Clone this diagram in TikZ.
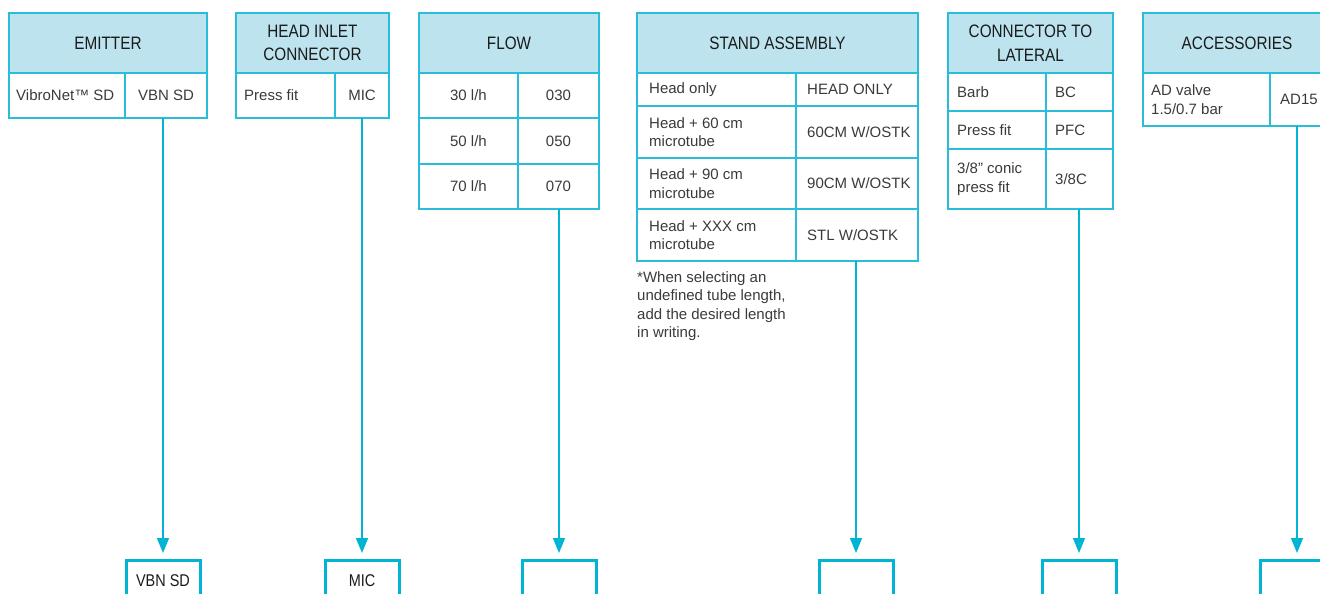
\documentclass[tikz,border=0pt]{standalone}
\usepackage{fontspec}
\setmainfont{Liberation Sans}
\newfontfamily\headfont[FakeStretch=0.85]{Liberation Sans}
\usepackage{tikz}
\usetikzlibrary{arrows.meta}
\definecolor{ciano}{HTML}{29BDD9}
\definecolor{cianoscuro}{HTML}{00B4D4}
\definecolor{azzurro}{HTML}{BDE3EE}
\definecolor{grigio}{HTML}{3A3A3A}
\definecolor{nero}{HTML}{1A1A1A}

\begin{document}
\begin{tikzpicture}[x=1pt, y=-1pt,
  griglia/.style={ciano, line width=1.5pt},
  testata/.style={font=\headfont\fontsize{18}{23.5}\selectfont, text=nero, align=center},
  voce/.style={font=\fontsize{15}{18.5}\selectfont, text=grigio, anchor=west, align=left, inner sep=0pt},
  codice/.style={font=\fontsize{15}{18.5}\selectfont, text=grigio, inner sep=0pt},
  uscita/.style={draw=cianoscuro, line width=3pt, minimum width=74pt, minimum height=40pt,
    anchor=north, font=\headfont\fontsize{17}{20}\selectfont, text=nero},
  collega/.style={cianoscuro, line width=1.5pt, shorten >=6pt, -{Triangle[length=15pt, width=12pt]}}]
  \useasboundingbox (0,0) rectangle (1320,594);
  \clip (0,0) rectangle (1320,594);
  % Emitter
  \fill[azzurro] (9,13) rectangle (207,73);
  \draw[griglia] (9,13) rectangle (207,118) (9,73) -- (207,73) (125,73) -- (125,118);
  \node[testata] (emitter) at (108,43) {EMITTER};
  \node[voce] (vibronet) at (16,95.5) {VibroNet™ SD};
  \node[codice] (vbnsd) at (166,95.5) {VBN SD};
  \coordinate (emitterOut) at (163,118);
  % Head inlet connector
  \fill[azzurro] (236,13) rectangle (389,73);
  \draw[griglia] (236,13) rectangle (389,118) (236,73) -- (389,73) (335,73) -- (335,118);
  \node[testata] (inlet) at (312.5,43) {HEAD INLET\\CONNECTOR};
  \node[voce] (pressfit) at (244,95.5) {Press fit};
  \node[codice] (mic) at (362,95.5) {MIC};
  \coordinate (inletOut) at (362,118);
  % Flow
  \fill[azzurro] (419,13) rectangle (599,73);
  \draw[griglia] (419,13) rectangle (599,209) (419,73) -- (599,73) (419,118) -- (599,118)
    (419,164) -- (599,164) (518,73) -- (518,209);
  \node[testata] (flow) at (509,43) {FLOW};
  \node[codice] (q30) at (468.5,95.5) {30 l/h};
  \node[codice] (c030) at (558.5,95.5) {030};
  \node[codice] (q50) at (468.5,141) {50 l/h};
  \node[codice] (c050) at (558.5,141) {050};
  \node[codice] (q70) at (468.5,186.5) {70 l/h};
  \node[codice] (c070) at (558.5,186.5) {070};
  \coordinate (flowOut) at (559,209);
  % Stand assembly
  \fill[azzurro] (637,13) rectangle (918,73);
  \draw[griglia] (637,13) rectangle (918,261) (637,73) -- (918,73) (637,106) -- (918,106)
    (637,158) -- (918,158) (637,209) -- (918,209) (796,73) -- (796,261);
  \node[testata] (stand) at (777.5,43) {STAND ASSEMBLY};
  \node[voce] (headonly) at (649,89.5) {Head only};
  \node[voce] (cheadonly) at (807,89.5) {HEAD ONLY};
  \node[voce] (head60) at (649,132) {Head + 60 cm\\microtube};
  \node[voce] (c60) at (807,132) {60CM W/OSTK};
  \node[voce] (head90) at (649,183.5) {Head + 90 cm\\microtube};
  \node[voce] (c90) at (807,183.5) {90CM W/OSTK};
  \node[voce] (headxxx) at (649,235) {Head + XXX cm\\microtube};
  \node[voce] (cstl) at (807,235) {STL W/OSTK};
  \node[voce, anchor=north west] (nota) at (637,271) {*When selecting an\\undefined tube length,\\add the desired length\\in writing.};
  \coordinate (standOut) at (856,261);
  % Connector to lateral
  \fill[azzurro] (948,13) rectangle (1113,73);
  \draw[griglia] (948,13) rectangle (1113,209) (948,73) -- (1113,73) (948,111) -- (1113,111)
    (948,149) -- (1113,149) (1046,73) -- (1046,209);
  \node[testata] (lateral) at (1030.5,43) {CONNECTOR TO\\LATERAL};
  \node[voce] (barb) at (957,92) {Barb};
  \node[voce] (cbc) at (1055,92) {BC};
  \node[voce] (pfit) at (957,130) {Press fit};
  \node[voce] (cpfc) at (1055,130) {PFC};
  \node[voce] (conic) at (957,179) {3/8" conic\\press fit};
  \node[voce] (c38) at (1055,179) {3/8C};
  \coordinate (lateralOut) at (1079,209);
  % Accessories
  \fill[azzurro] (1143,13) rectangle (1331,73);
  \draw[griglia] (1143,13) rectangle (1331,126) (1143,73) -- (1331,73) (1270,73) -- (1270,126);
  \node[testata] (access) at (1237,43) {ACCESSORIES};
  \node[voce] (advalve) at (1151,99.5) {AD valve\\1.5/0.7 bar};
  \node[voce] (cad) at (1280,99.5) {AD15};
  \coordinate (accessOut) at (1297,126);
  % Result boxes
  \node[uscita] (boxEmitter) at (163,559) {VBN SD};
  \node[uscita] (boxInlet) at (362,559) {MIC};
  \node[uscita] (boxFlow) at (559,559) {};
  \node[uscita] (boxStand) at (856,559) {};
  \node[uscita] (boxLateral) at (1079,559) {};
  \node[uscita] (boxAccess) at (1297,559) {};
  \draw[collega] (emitterOut) -- (boxEmitter);
  \draw[collega] (inletOut) -- (boxInlet);
  \draw[collega] (flowOut) -- (boxFlow);
  \draw[collega] (standOut) -- (boxStand);
  \draw[collega] (lateralOut) -- (boxLateral);
  \draw[collega] (accessOut) -- (boxAccess);
\end{tikzpicture}
\end{document}
